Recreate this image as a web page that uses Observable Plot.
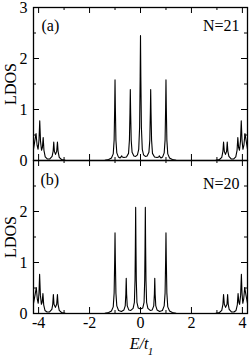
<!DOCTYPE html>
<html><head><meta charset="utf-8">
<script src="https://cdn.jsdelivr.net/npm/d3@7"></script>
<script src="https://cdn.jsdelivr.net/npm/@observablehq/plot@0.6"></script>
<style>html,body{margin:0;padding:0;background:#fff}svg{display:block}</style>
</head><body><div id="chart"></div>
<script>
// Panel (a), N=21
const energyA = [-4.20,-4.15,-4.10,-4.06,-4.02,-3.985,-3.955,-3.925,-3.885,-3.85,-3.82,-3.79,-3.74,-3.66,-3.56,-3.47,-3.43,-3.405,-3.38,-3.335,-3.29,-3.26,-3.235,-3.19,-3.10,-2.95,-2.60,
-1.40,-1.25,-1.14,-1.07,-1.035,-1.013,-1.00,-0.987,-0.965,-0.93,-0.87,-0.80,-0.765,-0.74,-0.715,-0.65,-0.55,-0.47,-0.435,-0.413,-0.40,-0.387,-0.365,-0.33,-0.26,-0.19,-0.12,-0.07,-0.035,-0.013,
0,
0.013,0.035,0.07,0.12,0.19,0.26,0.33,0.365,0.387,0.40,0.413,0.435,0.47,0.55,0.65,0.715,0.74,0.765,0.80,0.87,0.93,0.965,0.987,1.00,1.013,1.035,1.07,1.14,1.25,1.40,
2.60,2.95,3.10,3.19,3.235,3.26,3.29,3.335,3.38,3.405,3.43,3.47,3.56,3.66,3.74,3.79,3.82,3.85,3.885,3.925,3.955,3.985,4.02,4.06,4.10,4.15,4.20];
const ldosA = [0.22,0.38,0.53,0.30,0.22,0.40,0.78,0.38,0.20,0.26,0.45,0.20,0.07,0.03,0.03,0.08,0.18,0.36,0.18,0.12,0.18,0.36,0.18,0.06,0.02,0.005,0,
0.005,0.02,0.05,0.13,0.40,1.05,1.58,1.05,0.40,0.15,0.07,0.05,0.07,0.09,0.07,0.06,0.07,0.14,0.40,0.95,1.39,0.95,0.40,0.16,0.09,0.08,0.11,0.22,0.65,1.65,
2.45,
1.65,0.65,0.22,0.11,0.08,0.09,0.16,0.40,0.95,1.39,0.95,0.40,0.14,0.07,0.06,0.07,0.09,0.07,0.05,0.07,0.15,0.40,1.05,1.58,1.05,0.40,0.13,0.05,0.02,0.005,
0,0.005,0.02,0.06,0.18,0.36,0.18,0.12,0.18,0.36,0.18,0.08,0.03,0.03,0.07,0.20,0.45,0.26,0.20,0.38,0.78,0.40,0.22,0.30,0.53,0.38,0.22];

// Panel (b), N=20
const energyB = [-4.20,-4.14,-4.09,-4.05,-4.015,-3.985,-3.96,-3.93,-3.89,-3.86,-3.83,-3.80,-3.75,-3.67,-3.57,-3.48,-3.445,-3.42,-3.395,-3.34,-3.29,-3.26,-3.235,-3.19,-3.10,-2.95,-2.60,
-1.40,-1.25,-1.14,-1.07,-1.035,-1.013,-1.00,-0.987,-0.965,-0.93,-0.86,-0.75,-0.65,-0.60,-0.575,-0.56,-0.545,-0.52,-0.46,-0.38,-0.29,-0.24,-0.215,-0.202,-0.19,-0.178,-0.165,-0.14,-0.09,
0,
0.09,0.14,0.165,0.178,0.19,0.202,0.215,0.24,0.29,0.38,0.46,0.52,0.545,0.56,0.575,0.60,0.65,0.75,0.86,0.93,0.965,0.987,1.00,1.013,1.035,1.07,1.14,1.25,1.40,
2.60,2.95,3.10,3.19,3.235,3.26,3.29,3.34,3.395,3.42,3.445,3.48,3.57,3.67,3.75,3.80,3.83,3.86,3.89,3.93,3.96,3.985,4.015,4.05,4.09,4.14,4.20];
const ldosB = [0.20,0.36,0.51,0.28,0.20,0.40,0.77,0.36,0.18,0.22,0.39,0.17,0.06,0.03,0.03,0.08,0.18,0.37,0.18,0.12,0.18,0.37,0.18,0.06,0.02,0.005,0,
0.005,0.02,0.05,0.13,0.40,1.05,1.58,1.05,0.40,0.15,0.06,0.04,0.07,0.15,0.38,0.69,0.38,0.15,0.07,0.06,0.10,0.22,0.65,1.30,2.08,1.30,0.65,0.22,0.11,
0.09,
0.11,0.22,0.65,1.30,2.08,1.30,0.65,0.22,0.10,0.06,0.07,0.15,0.38,0.69,0.38,0.15,0.07,0.04,0.06,0.15,0.40,1.05,1.58,1.05,0.40,0.13,0.05,0.02,0.005,
0,0.005,0.02,0.06,0.18,0.37,0.18,0.12,0.18,0.37,0.18,0.08,0.03,0.03,0.06,0.17,0.39,0.22,0.18,0.36,0.77,0.40,0.20,0.28,0.51,0.36,0.20];

const panels = ["a", "b"];
const panelTags = ["(a)", "(b)"];
const sizeLabels = ["N=21", "N=20"];
const xTickLabels = [-4, -2, 0, 2, 4];
const xMajor = [-4, -2, 0, 2, 4];
const xMinor = [-3, -1, 1, 3];
const yMajor = [0, 1, 2, 3];
const yMinor = [0.5, 1.5, 2.5];
const yTickLabelsA = [0, 1, 2, 3];
const yTickLabelsB = [0, 1, 2];

const table = [
  ...energyA.map((e, i) => ({panel: "a", E: e, LDOS: ldosA[i]})),
  ...energyB.map((e, i) => ({panel: "b", E: e, LDOS: ldosB[i]}))
];
const yLabelRows = [
  ...yTickLabelsA.map(v => ({panel: "a", v})),
  ...yTickLabelsB.map(v => ({panel: "b", v}))
];

const W = 249, H = 356, mL = 33, mR = 2, mT = 7, mB = 43;
const pw = W - mL - mR;
const ph = (H - mT - mB) / 2;
const font = "Liberation Serif, Times New Roman, serif";

const plot = Plot.plot({
  width: W, height: H,
  marginLeft: mL, marginRight: mR, marginTop: mT, marginBottom: mB,
  style: {fontFamily: font, fontSize: "16px", background: "white", color: "black"},
  x: {domain: [-4.2, 4.2], axis: null},
  y: {domain: [0, 3], axis: null},
  fy: {domain: panels, padding: 0, axis: null},
  marks: [
    Plot.line(table, {x: "E", y: "LDOS", fy: "panel", stroke: "black", strokeWidth: 1.1, clip: true}),
    // inward ticks
    Plot.tickX(xMajor, {x: d => d, insetTop: ph - 6, stroke: "black", strokeWidth: 1}),
    Plot.tickX(xMajor, {x: d => d, insetBottom: ph - 6, stroke: "black", strokeWidth: 1}),
    Plot.tickX(xMinor, {x: d => d, insetTop: ph - 3, stroke: "black", strokeWidth: 1}),
    Plot.tickX(xMinor, {x: d => d, insetBottom: ph - 3, stroke: "black", strokeWidth: 1}),
    Plot.tickY(yMajor, {y: d => d, insetRight: pw - 6, stroke: "black", strokeWidth: 1}),
    Plot.tickY(yMajor, {y: d => d, insetLeft: pw - 6, stroke: "black", strokeWidth: 1}),
    Plot.tickY(yMinor, {y: d => d, insetRight: pw - 3, stroke: "black", strokeWidth: 1}),
    Plot.tickY(yMinor, {y: d => d, insetLeft: pw - 3, stroke: "black", strokeWidth: 1}),
    Plot.frame({stroke: "black", strokeWidth: 1.3}),
    // tick labels
    Plot.axisX({ticks: xTickLabels, tickSize: 0, tickPadding: 3, tickFormat: d => String(d), label: null, fontSize: 16, fontFamily: font}),
    Plot.text(yLabelRows, {fy: "panel", y: "v", text: d => String(d.v), frameAnchor: "left", textAnchor: "end", dx: -6, fontSize: 16}),
    // y label
    Plot.text(panels, {fy: d => d, text: () => "LDOS", frameAnchor: "left", dx: -22.5, rotate: -90, textAnchor: "middle", lineAnchor: "middle", fontSize: 16}),
    // panel tags
    Plot.text([panels[0]], {fy: d => d, text: () => panelTags[0], frameAnchor: "top-left", dx: 8, dy: 18, textAnchor: "start", lineAnchor: "middle", fontSize: 16}),
    Plot.text([panels[1]], {fy: d => d, text: () => panelTags[1], frameAnchor: "top-left", dx: 7, dy: 19, textAnchor: "start", lineAnchor: "middle", fontSize: 16}),
    Plot.text([panels[0]], {fy: d => d, text: () => sizeLabels[0], frameAnchor: "top-right", dx: -8, dy: 18, textAnchor: "end", lineAnchor: "middle", fontSize: 16}),
    Plot.text([panels[1]], {fy: d => d, text: () => sizeLabels[1], frameAnchor: "top-right", dx: -8, dy: 23, textAnchor: "end", lineAnchor: "middle", fontSize: 16}),
    // x label E/t1
    Plot.text([panels[1]], {fy: d => d, text: () => "E/t", frameAnchor: "bottom", dx: -1.5, dy: 30.5, textAnchor: "middle", lineAnchor: "middle", fontStyle: "italic", fontSize: 16}),
    Plot.text([panels[1]], {fy: d => d, text: () => "1", frameAnchor: "bottom", dx: 10, dy: 38, textAnchor: "middle", lineAnchor: "middle", fontStyle: "italic", fontSize: 11})
  ]
});
document.getElementById("chart").appendChild(plot);
</script>
</body></html>
